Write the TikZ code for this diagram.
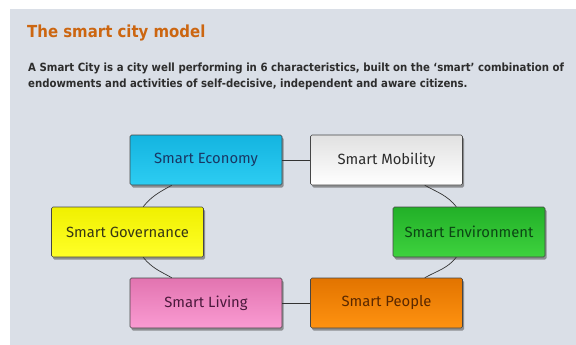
\documentclass[tikz,border=0pt]{standalone}
\usepackage{fontspec}
\setmainfont{Fira Sans}
\newfontfamily\headfont{DejaVu Sans Condensed}
\usetikzlibrary{calc,shadows}
\definecolor{panel}{RGB}{218,223,231}
\definecolor{titleor}{RGB}{204,102,17}
\definecolor{bodytxt}{RGB}{45,45,45}
\definecolor{edge}{RGB}{70,70,70}
\begin{document}
\begin{tikzpicture}[x=1pt,y=1pt,
  box/.style={draw=edge, line width=0.6pt, rounded corners=1.5pt,
    minimum width=152pt, minimum height=50pt, inner sep=0pt,
    font=\fontsize{14.8}{16}\selectfont,
    drop shadow={shadow xshift=1.5pt, shadow yshift=-2.5pt, fill=black!70, opacity=0.55}},
  link/.style={draw=black!80, line width=0.7pt},
  bodyline/.style={anchor=base west, inner sep=0pt, text=bodytxt, font=\headfont\bfseries\fontsize{11.3}{13}\selectfont}]
\useasboundingbox (0,0) rectangle (576,-345);
\fill[panel] (10,-9) rectangle (576,-345);

% heading and description
\node[anchor=base west, inner sep=0pt, text=titleor, font=\headfont\bfseries\fontsize{16.6}{19}\selectfont]
  (title) at (27,-38) {The smart city model};
\node[bodyline] (line1) at (28,-71) {A Smart City is a city well performing in 6 characteristics, built on the ‘smart’ combination of};
\node[bodyline] (line2) at (28,-88) {endowments and activities of self-decisive, independent and aware citizens.};

% the six characteristics
\node[box, top color={rgb,255:red,20;green,180;blue,224}, bottom color={rgb,255:red,45;green,205;blue,242},
  text={rgb,255:red,25;green,55;blue,100}] (eco) at (206,-160) {Smart Economy};
\node[box, top color={rgb,255:red,225;green,225;blue,225}, bottom color=white,
  text={rgb,255:red,45;green,45;blue,45}] (mob) at (386.5,-160) {Smart Mobility};
\node[box, top color={rgb,255:red,240;green,240;blue,0}, bottom color={rgb,255:red,255;green,255;blue,40},
  text={rgb,255:red,55;green,55;blue,20}] (gov) at (127.5,-232) {Smart Governance};
\node[box, top color={rgb,255:red,34;green,176;blue,40}, bottom color={rgb,255:red,62;green,210;blue,62},
  text={rgb,255:red,12;green,70;blue,20}] (env) at (469,-232) {Smart Environment};
\node[box, top color={rgb,255:red,226;green,116;blue,176}, bottom color={rgb,255:red,250;green,155;blue,210},
  text={rgb,255:red,75;green,25;blue,60}] (liv) at (206,-303) {Smart Living};
\node[box, top color={rgb,255:red,226;green,116;blue,0}, bottom color={rgb,255:red,255;green,146;blue,16},
  text={rgb,255:red,90;green,40;blue,0}] (peo) at (386.5,-303) {Smart People};

% links
\draw[link] (eco.east) -- (mob.west);
\draw[link] (liv.east) -- (peo.west);
\draw[link] ($(eco.south west)+(42,0)$) to[out=209, in=51] ($(gov.north west)+(92,0)$);
\draw[link] ($(gov.south west)+(92,0)$) to[out=309, in=151] ($(liv.north west)+(42,0)$);
\draw[link] ($(mob.south east)+(-38,0)$) to[out=331, in=129] ($(env.north east)+(-89,0)$);
\draw[link] ($(env.south east)+(-89,0)$) to[out=231, in=29] ($(peo.north east)+(-38,0)$);
\end{tikzpicture}
\end{document}
